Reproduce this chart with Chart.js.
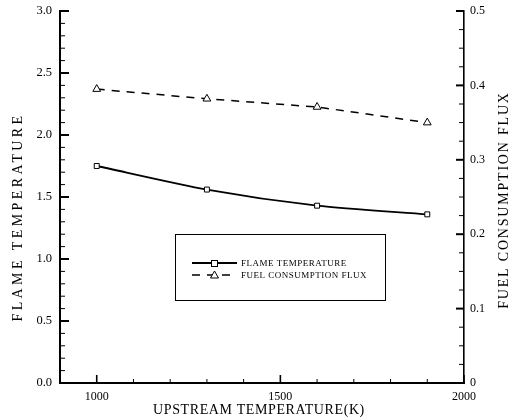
<!DOCTYPE html>
<html><head><meta charset="utf-8">
<script src="https://cdn.jsdelivr.net/npm/chart.js@4"></script>
<style>html,body{margin:0;padding:0;background:#fff}#w{width:517px;height:420px;position:relative}</style>
</head><body><div id="w"><canvas id="c" width="517" height="420"></canvas></div>
<script>
const upstreamTemp = [1000, 1300, 1600, 1900];
const flameTemp = [1.75, 1.56, 1.43, 1.36];
const fuelFlux = [0.395, 0.382, 0.371, 0.350];
const xTickLabels = [1000, 1500, 2000];
const leftTickLabels = [0, 0.5, 1.0, 1.5, 2.0, 2.5, 3.0];
const rightTickLabels = [0, 0.1, 0.2, 0.3, 0.4, 0.5];
const seriesNames = ['FLAME TEMPERATURE', 'FUEL CONSUMPTION FLUX'];
const axisTitles = {x: 'UPSTREAM TEMPERATURE(K)', y: 'FLAME TEMPERATURE', y2: 'FUEL CONSUMPTION FLUX'};

const SERIF = '"Liberation Serif", "DejaVu Serif", serif';

const inwardTicks = {
  id: 'inwardTicks',
  afterDraw(chart) {
    const ctx = chart.ctx, a = chart.chartArea;
    ctx.save();
    ctx.strokeStyle = '#000';
    const sx = chart.scales.x, sy = chart.scales.y, s2 = chart.scales.y2;
    for (let v = 900; v <= 2000; v += 100) {
      const px = sx.getPixelForValue(v);
      const major = v % 500 === 0;
      ctx.lineWidth = major ? 1.6 : 1;
      ctx.beginPath(); ctx.moveTo(px, a.bottom); ctx.lineTo(px, a.bottom - (major ? 8 : 4)); ctx.stroke();
    }
    for (let i = 0; i <= 30; i++) {
      const v = i / 10, py = sy.getPixelForValue(v);
      const major = i % 5 === 0;
      ctx.lineWidth = major ? 2 : 1;
      ctx.beginPath(); ctx.moveTo(a.left, py); ctx.lineTo(a.left + (major ? 9 : 5), py); ctx.stroke();
    }
    for (let i = 0; i <= 20; i++) {
      const v = i / 40, py = s2.getPixelForValue(v);
      const major = i % 4 === 0;
      ctx.lineWidth = major ? 2 : 1;
      ctx.beginPath(); ctx.moveTo(a.right, py); ctx.lineTo(a.right - (major ? 8 : 5), py); ctx.stroke();
    }
    ctx.fillStyle = '#000';
    ctx.textAlign = 'center'; ctx.textBaseline = 'middle';
    ctx.font = '14px ' + SERIF;
    ctx.letterSpacing = '0.6px';
    ctx.fillText(axisTitles.x, 259, 410);
    ctx.save();
    ctx.translate(18, 217); ctx.rotate(-Math.PI / 2);
    ctx.letterSpacing = '3.4px';
    ctx.fillText(axisTitles.y, 0, 0);
    ctx.restore();
    ctx.save();
    ctx.translate(504, 200); ctx.rotate(-Math.PI / 2);
    ctx.letterSpacing = '1.8px';
    ctx.fillText(axisTitles.y2, 0, 0);
    ctx.restore();
    const bx = 175, by = 234, bw = 210, bh = 66;
    ctx.lineWidth = 1;
    ctx.strokeRect(bx + 0.5, by + 0.5, bw, bh);
    ctx.font = '9px ' + SERIF;
    ctx.letterSpacing = '0.5px';
    ctx.textAlign = 'left';
    chart.data.datasets.forEach((ds, i) => {
      const ly = 263 + i * 12;
      ctx.save();
      ctx.strokeStyle = ds.borderColor;
      ctx.lineWidth = ds.borderWidth;
      ctx.setLineDash(ds.borderDash || []);
      ctx.beginPath(); ctx.moveTo(192, ly); ctx.lineTo(237, ly); ctx.stroke();
      ctx.setLineDash([]);
      ctx.lineWidth = 1;
      ctx.fillStyle = '#fff';
      if (ds.pointStyle === 'rect') {
        ctx.fillRect(211, ly - 3, 6, 6); ctx.strokeRect(211.5, ly - 2.5, 6, 6);
      } else {
        ctx.beginPath(); ctx.moveTo(214.5, ly - 4); ctx.lineTo(218.5, ly + 3); ctx.lineTo(210.5, ly + 3); ctx.closePath(); ctx.fill(); ctx.stroke();
      }
      ctx.restore();
      ctx.fillStyle = '#000';
      ctx.fillText(ds.label, 241, ly + 0.5);
    });
    ctx.restore();
  }
};

new Chart(document.getElementById('c'), {
  type: 'line',
  data: {
    datasets: [
      {label: seriesNames[0], data: upstreamTemp.map((x, i) => ({x, y: flameTemp[i]})), yAxisID: 'y',
       borderColor: '#000', borderWidth: 1.9, tension: 0.25, pointStyle: 'rect', pointRadius: 3.5,
       pointBackgroundColor: '#fff', pointBorderColor: '#000', pointBorderWidth: 1},
      {label: seriesNames[1], data: upstreamTemp.map((x, i) => ({x, y: fuelFlux[i]})), yAxisID: 'y2',
       borderColor: '#000', borderWidth: 1.5, borderDash: [8, 7], tension: 0, pointStyle: 'triangle', pointRadius: 4.5,
       pointBackgroundColor: '#fff', pointBorderColor: '#000', pointBorderWidth: 1}
    ]
  },
  options: {
    responsive: false, animation: false,
    layout: {padding: {top: 11, left: 0, right: 0, bottom: 0}},
    plugins: {legend: {display: false}, tooltip: {enabled: false}},
    scales: {
      x: {type: 'linear', position: 'bottom', min: 900, max: 2000,
          afterBuildTicks: s => { s.ticks = xTickLabels.map(v => ({value: v})); },
          afterFit: s => { s.height = 37; s.paddingLeft = 0; s.paddingRight = 0; },
          grid: {display: false, drawTicks: false}, border: {display: true, color: '#000', width: 2},
          ticks: {color: '#000', font: {family: SERIF, size: 12}, padding: 7, maxRotation: 0, autoSkip: false,
                  callback: v => String(v)}},
      y: {type: 'linear', position: 'left', min: 0, max: 3,
          afterBuildTicks: s => { s.ticks = leftTickLabels.map(v => ({value: v})); },
          afterFit: s => { s.width = 60; s.paddingTop = 0; s.paddingBottom = 0; },
          grid: {display: false, drawTicks: false}, border: {display: true, color: '#000', width: 2},
          ticks: {color: '#000', font: {family: SERIF, size: 12.5}, padding: 8, callback: v => v.toFixed(1)}},
      y2: {type: 'linear', position: 'right', min: 0, max: 0.5,
          afterBuildTicks: s => { s.ticks = rightTickLabels.map(v => ({value: v})); },
          afterFit: s => { s.width = 53; s.paddingTop = 0; s.paddingBottom = 0; },
          grid: {display: false, drawTicks: false}, border: {display: true, color: '#000', width: 1.6},
          ticks: {color: '#000', font: {family: SERIF, size: 12}, padding: 6, callback: v => v === 0 ? '0' : v.toFixed(1)}}
    }
  },
  plugins: [inwardTicks]
});
</script></body></html>
